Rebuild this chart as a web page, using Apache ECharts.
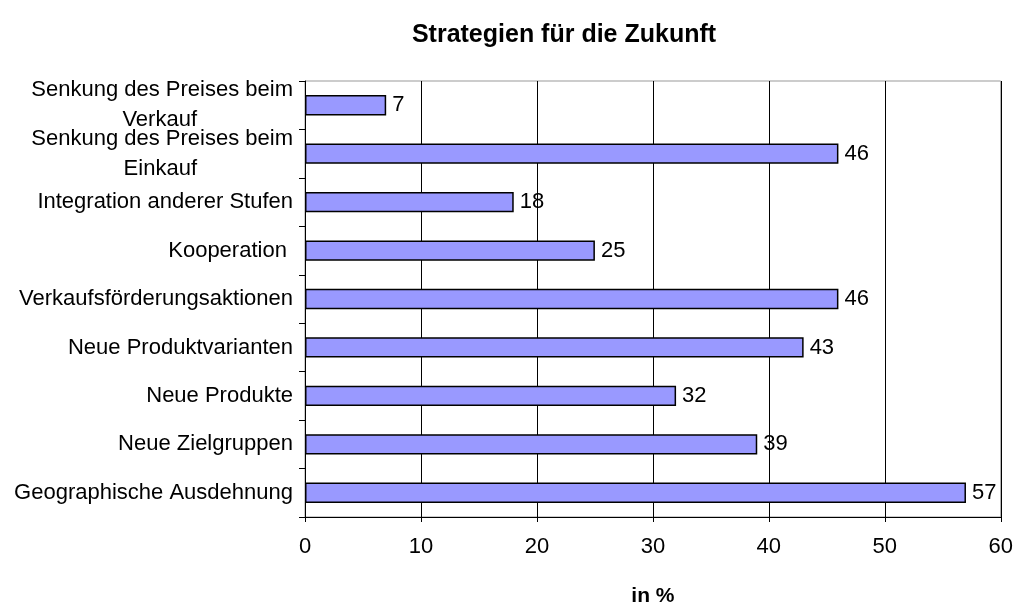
<!DOCTYPE html>
<html>
<head>
<meta charset="utf-8">
<script src="https://cdn.jsdelivr.net/npm/echarts@6/dist/echarts.min.js"></script>
<style>
  html, body { margin: 0; padding: 0; background: #fff; }
  #chart { width: 1016px; height: 615px; }
</style>
</head>
<body>
<div id="chart"></div>
<script>
// categories listed bottom to top
const categories = [
  'Geographische Ausdehnung',
  'Neue Zielgruppen',
  'Neue Produkte',
  'Neue Produktvarianten',
  'Verkaufsförderungsaktionen',
  'Kooperation ',
  'Integration anderer Stufen',
  'Senkung des Preises beim\nEinkauf',
  'Senkung des Preises beim\nVerkauf'
]
const values = [57, 39, 32, 43, 46, 25, 18, 46, 7]

const chart = echarts.init(document.getElementById('chart'))

const option = {
  animation: false,
  textStyle: { fontFamily: 'Liberation Sans, Arial, sans-serif' },
  title: {
    text: 'Strategien für die Zukunft',
    left: 559,
    top: 18,
    textAlign: 'center',
    textStyle: { fontSize: 25, fontWeight: 'bold', color: '#000' }
  },
  grid: {
    left: 305,
    right: 14,
    top: 81,
    bottom: 98,
    show: true,
    borderColor: '#999',
    borderWidth: 1
  },
  xAxis: {
    type: 'value',
    min: 0,
    max: 60,
    interval: 10,
    name: 'in %',
    nameLocation: 'middle',
    nameGap: 69,
    nameTextStyle: { fontSize: 21, fontWeight: 'bold', color: '#000' },
    axisLine: { show: true, lineStyle: { color: '#000', width: 1 } },
    axisTick: { show: true, length: 5, lineStyle: { color: '#000' } },
    axisLabel: { fontSize: 22, color: '#000', margin: 19 },
    splitLine: { show: true, lineStyle: { color: '#000', width: 1 } }
  },
  yAxis: {
    type: 'category',
    data: categories,
    axisLine: { show: true, lineStyle: { color: '#000', width: 1 } },
    axisTick: { show: true, length: 6, interval: 0, lineStyle: { color: '#000' } },
    axisLabel: {
      interval: 0,
      fontSize: 22,
      color: '#000',
      margin: 12,
      lineHeight: 30,
      formatter: (v) => {
        const parts = v.split('\n')
        if (parts.length === 1) return v
        return '{a|' + parts[0] + '}\n{b|' + parts[1] + '}'
      },
      rich: {
        a: { fontSize: 22, color: '#000', lineHeight: 30 },
        b: { fontSize: 22, color: '#000', lineHeight: 30, padding: [0, 96, 0, 0] }
      }
    }
  },
  series: [
    {
      type: 'bar',
      data: values,
      barCategoryGap: '58%',
      itemStyle: { color: '#9999ff', borderColor: '#000', borderWidth: 1.5 },
      label: {
        show: true,
        position: 'right',
        distance: 6,
        fontSize: 22,
        color: '#000'
      }
    }
  ]
}

chart.setOption(option)
</script>
</body>
</html>
